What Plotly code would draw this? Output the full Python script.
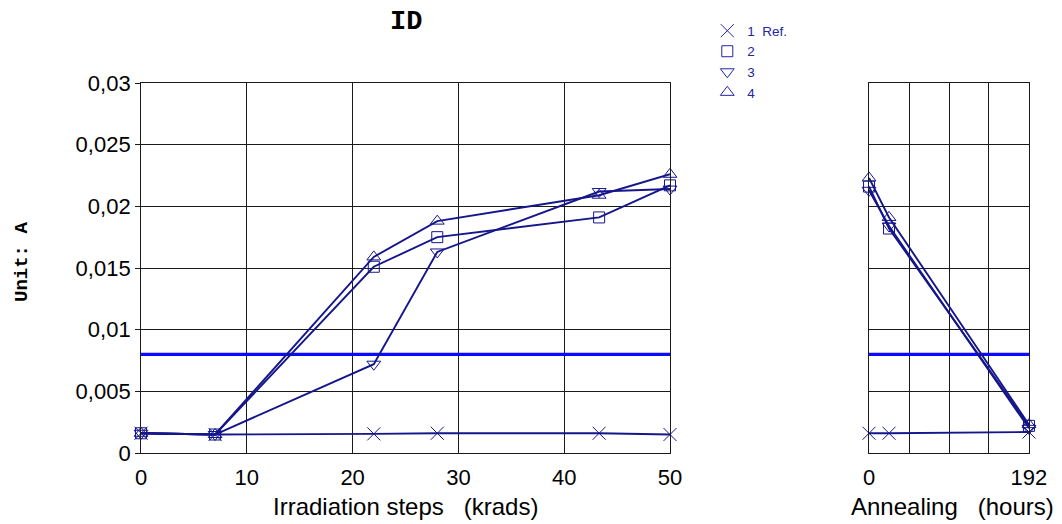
import plotly.graph_objects as go

# ---------------- data ----------------
irr_x = [0, 7, 22, 28, 43.3, 50]
irr_ref = [0.0016, 0.0015, 0.00155, 0.0016, 0.0016, 0.0015]
irr_s2 = [0.0016, 0.0015, 0.0151, 0.0175, 0.0191, 0.0217]
irr_s3 = [0.0016, 0.0015, 0.0072, 0.0163, 0.0212, 0.0214]
irr_s4 = [0.0016, 0.0015, 0.0159, 0.0188, 0.0209, 0.0226]

ann_x = [0, 24, 192]
ann_ref = [0.0016, 0.0016, 0.0017]
ann_s2 = [0.0216, 0.0182, 0.0022]
ann_s3 = [0.0213, 0.0184, 0.0020]
ann_s4 = [0.0223, 0.0191, 0.0023]

limit_value = 0.008

series_names = ["1\u00a0\u00a0Ref.", "2", "3", "4"]
series_symbols = ["x-thin-open", "square-open", "triangle-down-open", "triangle-up-open"]
series_sizes = [13, 11, 12, 12]

y_ticks = [0, 0.005, 0.01, 0.015, 0.02, 0.025, 0.03]
y_ticktext = ["0", "0,005", "0,01", "0,015", "0,02", "0,025", "0,03"]
x_ticks = [0, 10, 20, 30, 40, 50]
ann_ticks = [0, 48, 96, 144, 192]
ann_ticktext = ["0", "", "", "", "192"]

NAVY = "#15158c"
LEG = "#2424a4"
BLUE = "#0a0aff"
FONT = "Liberation Sans"
MONO = "Liberation Mono"

fig = go.Figure()

irr_series = [irr_ref, irr_s2, irr_s3, irr_s4]
ann_series = [ann_ref, ann_s2, ann_s3, ann_s4]

# threshold lines
fig.add_trace(go.Scatter(x=[0, 50], y=[limit_value, limit_value], mode="lines",
                         line=dict(color=BLUE, width=3.2), showlegend=False,
                         xaxis="x", yaxis="y", hoverinfo="skip"))
fig.add_trace(go.Scatter(x=[0, 192], y=[limit_value, limit_value], mode="lines",
                         line=dict(color=BLUE, width=3.2), showlegend=False,
                         xaxis="x2", yaxis="y2", hoverinfo="skip"))

for name, sym, sz, ys, ya in zip(series_names, series_symbols, series_sizes, irr_series, ann_series):
    mk = dict(symbol=sym, size=sz, color=NAVY, line=dict(color=NAVY, width=1))
    fig.add_trace(go.Scatter(x=irr_x, y=ys, mode="lines+markers", name=name,
                             line=dict(color=NAVY, width=1.9), marker=mk,
                             showlegend=False, cliponaxis=False,
                             xaxis="x", yaxis="y"))
    fig.add_trace(go.Scatter(x=ann_x, y=ya, mode="lines+markers", name=name,
                             line=dict(color=NAVY, width=1.9), marker=mk,
                             showlegend=False, cliponaxis=False,
                             xaxis="x2", yaxis="y2"))
    # legend entry (marker only)
    fig.add_trace(go.Scatter(x=[None], y=[None], mode="markers", name=name,
                             marker=dict(symbol=sym, size=sz, color=LEG,
                                         line=dict(color=LEG, width=1)),
                             showlegend=True, xaxis="x", yaxis="y"))

ydom = [0.1355, 0.8416]
grid = dict(showgrid=True, gridcolor="#1a1a1a", gridwidth=1,
            showline=True, linecolor="#1a1a1a", linewidth=1, mirror=True,
            zeroline=False, automargin=False)

fig.update_layout(
    width=1062, height=524, autosize=False,
    margin=dict(l=0, r=0, t=0, b=0, pad=0, autoexpand=False),
    paper_bgcolor="white", plot_bgcolor="white",
    font=dict(family=FONT, size=22, color="black"),
    showlegend=True,
    legend=dict(x=0.666, y=0.9706, xanchor="left", yanchor="top",
                font=dict(family=FONT, size=13.5, color=LEG),
                bgcolor="rgba(0,0,0,0)", tracegroupgap=0,
                itemsizing="trace"),
    xaxis=dict(domain=[0.1328, 0.6309], range=[0, 50], tickvals=x_ticks,
               ticks="", anchor="y", tickfont=dict(size=22), ticklabelstandoff=5, **grid),
    yaxis=dict(domain=ydom, range=[0, 0.03], tickvals=y_ticks, ticktext=y_ticktext,
               ticks="outside", ticklen=5, tickcolor="#1a1a1a", anchor="x",
               tickfont=dict(size=22), **grid),
    xaxis2=dict(domain=[0.8183, 0.9689], range=[0, 192], tickvals=ann_ticks,
                ticktext=ann_ticktext, ticks="", anchor="y2",
                tickfont=dict(size=22), ticklabelstandoff=5, **grid),
    yaxis2=dict(domain=ydom, range=[0, 0.03], tickvals=y_ticks, showticklabels=False,
                ticks="", anchor="x2", **grid),
    annotations=[
        dict(text="<b>ID</b>", x=406 / 1062, y=1 - 22 / 524, xref="paper", yref="paper",
             xanchor="center", yanchor="middle",
             showarrow=False, font=dict(family=MONO, size=27, color="black")),
        dict(text="<b>Unit: A</b>", x=22 / 1062, y=1 - 262 / 524, xref="paper", yref="paper",
             xanchor="center", yanchor="middle",
             showarrow=False, textangle=-90, font=dict(family=MONO, size=19, color="black")),
        dict(text="Irradiation steps\u00a0\u00a0\u00a0(krads)", x=405 / 1062, y=1 - 506 / 524,
             xanchor="center", yanchor="middle",
             xref="paper", yref="paper", showarrow=False, font=dict(family=FONT, size=24)),
        dict(text="Annealing\u00a0\u00a0\u00a0(hours)", x=952 / 1062, y=1 - 506 / 524,
             xanchor="center", yanchor="middle",
             xref="paper", yref="paper", showarrow=False, font=dict(family=FONT, size=24)),
    ],
)

fig.write_html("out.html")
